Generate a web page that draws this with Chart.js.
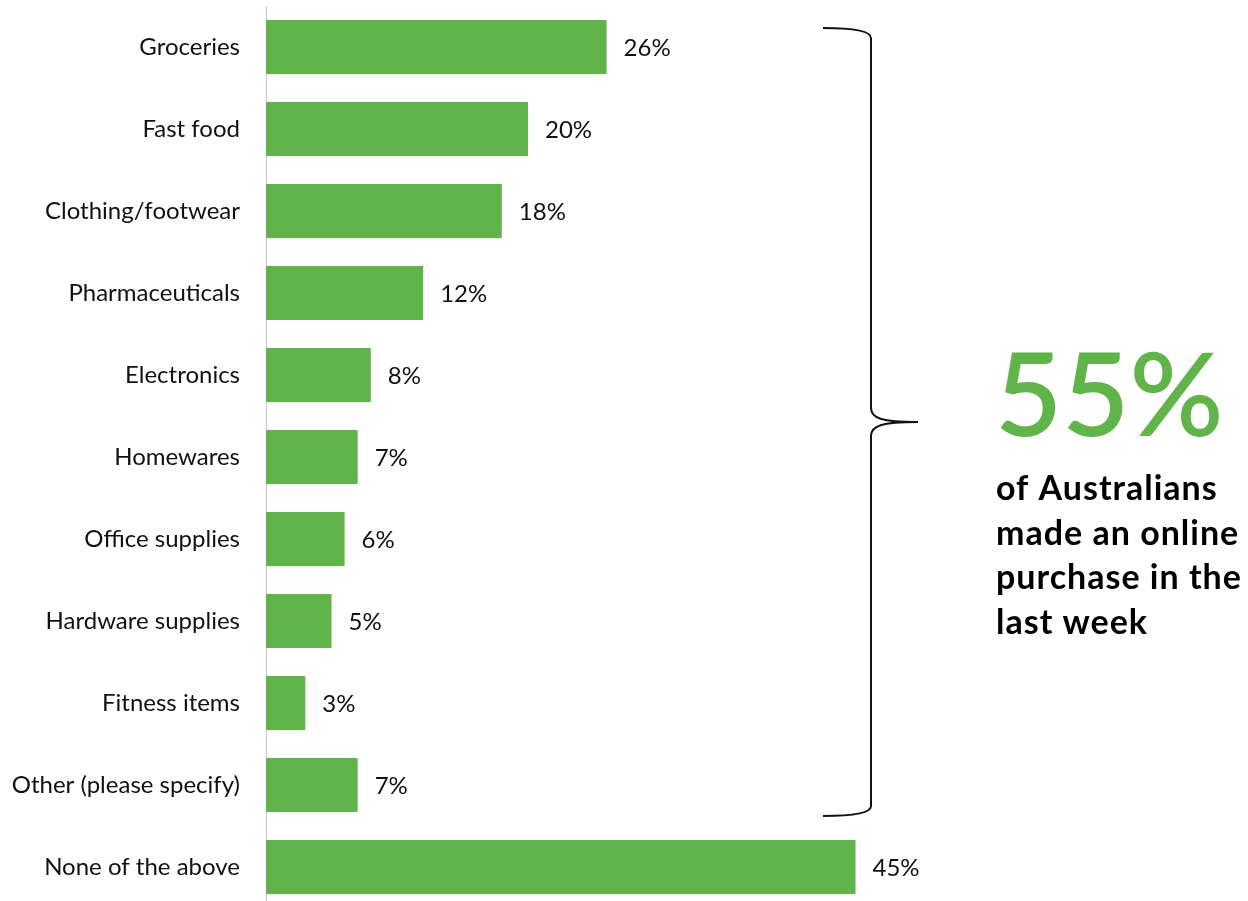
<!DOCTYPE html>
<html>
<head>
<meta charset="utf-8">
<script src="https://cdn.jsdelivr.net/npm/chart.js@4.4.1/dist/chart.umd.min.js"></script>
<style>
  html, body { margin: 0; padding: 0; background: #fff; overflow: hidden; }
  canvas { display: block; }
</style>
</head>
<body>
<canvas id="chart" width="1248" height="910"></canvas>
<script>
// Online purchase categories, share of respondents (%)
const categories = [
  'Groceries', 'Fast food', 'Clothing/footwear', 'Pharmaceuticals', 'Electronics',
  'Homewares', 'Office supplies', 'Hardware supplies', 'Fitness items',
  'Other (please specify)', 'None of the above'
];
const shares = [26, 20, 18, 12, 8, 7, 6, 5, 3, 7, 45];
const headline = '55%';
const headlineText = ['of Australians', 'made an online', 'purchase in the', 'last week'];

const GREEN = '#61b449';
const FONT = 'Lato, "Open Sans", sans-serif';

/* ── value labels at the end of each bar ─────────────── */
const valueLabels = {
  id: 'valueLabels',
  afterDatasetsDraw(chart) {
    const ctx = chart.ctx;
    const meta = chart.getDatasetMeta(0);
    ctx.save();
    ctx.font = '24px ' + FONT;
    ctx.fillStyle = '#111';
    ctx.textAlign = 'left';
    ctx.textBaseline = 'middle';
    meta.data.forEach((bar, i) => {
      ctx.fillText(shares[i] + '%', bar.x + 17, bar.y + 1);
    });
    ctx.restore();
  }
};

/* ── curly brace + headline callout ──────────────────── */
const callout = {
  id: 'callout',
  afterDraw(chart) {
    const ctx = chart.ctx;
    const y = chart.scales.y;
    const top = y.getPixelForValue(0) - 19;
    const bot = y.getPixelForValue(9) + 31;
    const mid = (top + bot) / 2;
    const xl = 823, xv = 871, xt = 918;

    ctx.save();
    ctx.strokeStyle = '#111';
    ctx.lineWidth = 2;
    ctx.beginPath();
    ctx.moveTo(xl, top);
    ctx.quadraticCurveTo(xv, top, xv, top + 10);
    ctx.lineTo(xv, mid - 14);
    ctx.bezierCurveTo(xv, mid - 4, xv + 10, mid, xt, mid);
    ctx.bezierCurveTo(xv + 10, mid, xv, mid + 4, xv, mid + 14);
    ctx.lineTo(xv, bot - 10);
    ctx.quadraticCurveTo(xv, bot, xl, bot);
    ctx.stroke();

    ctx.fillStyle = GREEN;
    ctx.font = '600 116px ' + FONT;
    ctx.textAlign = 'left';
    ctx.textBaseline = 'alphabetic';
    ctx.fillText(headline, 995, 436);

    ctx.fillStyle = '#000';
    ctx.font = 'bold 34px ' + FONT;
    ctx.letterSpacing = '1px';
    headlineText.forEach((line, i) => ctx.fillText(line, 996, 500 + i * 44.5));
    ctx.restore();
  }
};

new Chart(document.getElementById('chart'), {
  type: 'bar',
  data: {
    labels: categories,
    datasets: [{
      data: shares,
      backgroundColor: GREEN,
      borderWidth: 0,
      barPercentage: 0.66,
      categoryPercentage: 1
    }]
  },
  options: {
    indexAxis: 'y',
    responsive: false,
    animation: false,
    layout: { padding: { left: 0, right: 196, top: 6, bottom: 2 } },
    plugins: { legend: { display: false }, tooltip: { enabled: false } },
    scales: {
      x: { display: false, min: 0, max: 60 },
      y: {
        // fixed axis width; drop the label overhang padding so rows fill the height
        afterFit: s => { s.width = 266; s.paddingTop = 0; s.paddingBottom = 0; },
        grid: { drawOnChartArea: false, drawTicks: false },
        border: { display: true, color: '#c8c8c8', width: 1 },
        ticks: { color: '#111', padding: 26, font: { family: FONT, size: 24 } }
      }
    }
  },
  plugins: [valueLabels, callout]
});
</script>
</body>
</html>
